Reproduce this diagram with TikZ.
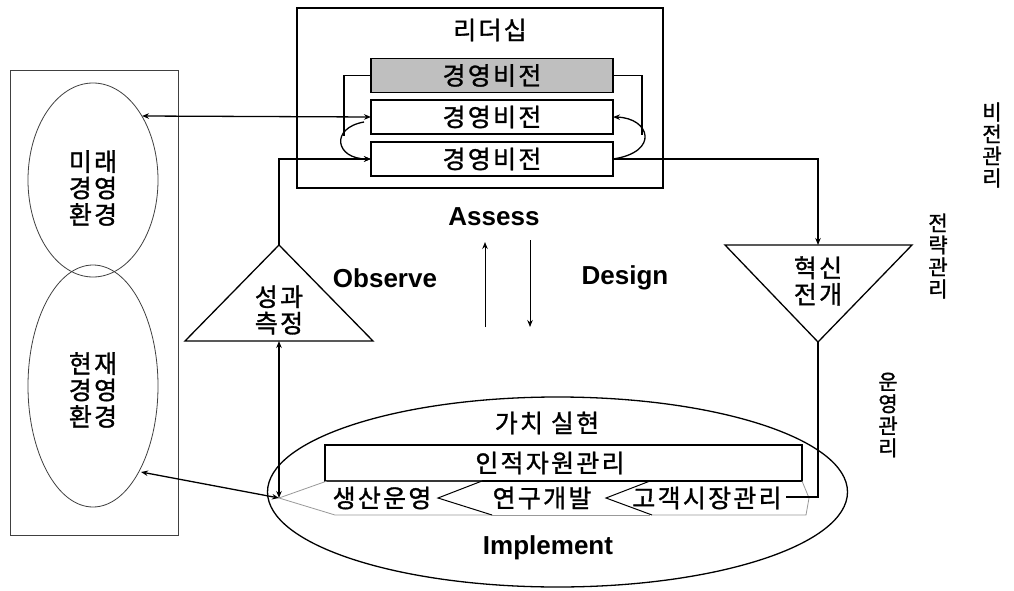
\documentclass[tikz,border=0pt]{standalone}
\usepackage{fontspec}
\setmainfont{Liberation Sans}
\newfontfamily\kr[LetterSpace=9, FakeBold=1.2]{Noto Sans CJK KR}
\usetikzlibrary{arrows.meta,shapes.geometric}
\begin{document}
\begin{tikzpicture}[x=1pt,y=-1pt,
  line width=1.3pt,
  every node/.style={inner sep=0pt, outer sep=0pt},
  krtext/.style={font=\kr\fontsize{25}{26.5}\selectfont, align=center},
  vlabel/.style={font=\kr\fontsize{21}{22}\selectfont, align=center},
  entext/.style={font=\bfseries\fontsize{26}{28}\selectfont},
  boxv/.style={draw, minimum width=242pt, minimum height=34pt, font=\kr\fontsize{25}{28}\selectfont},
  arr/.style={-{Stealth[length=7pt,width=5.5pt]}},
  dbl/.style={{Stealth[length=7pt,width=5.5pt]}-{Stealth[length=7pt,width=5.5pt]}},
  thinline/.style={draw=black!75, line width=0.8pt},
  chev/.style={draw=black!40, line width=0.8pt}
]
\useasboundingbox (0,0) rectangle (1014,591);
\fill[white] (0,0) rectangle (1014,591);

% leadership
\node[draw, minimum width=366pt, minimum height=180pt] (lead) at (480,98) {};
\node[krtext] (leadt) at (490,30) {리더십};
\node[boxv, fill=black!25] (v1) at (492,75.5) {경영비전};
\node[boxv] (v2) at (492,117) {경영비전};
\node[boxv] (v3) at (492,159) {경영비전};
\coordinate (lcorner) at (344,75.5);
\coordinate (lstart) at (364,122);
\coordinate (rcorner) at (642,75.5);
\coordinate (rend) at (642,135);
\coordinate (lend) at (344,136);
\draw (v1.west) -- (lcorner) -- (lend);
\draw[arr] (lstart) .. controls (330,128) and (335,159) .. (v3.west);
\draw (v1.east) -- (rcorner) -- (rend);
\draw[arr] (v3.east) .. controls (660,152) and (650,118) .. (v2.east);

% environment
\node[thinline, minimum width=168pt, minimum height=465pt] (env) at (94,302.5) {};
\node[thinline, ellipse, minimum width=130pt, minimum height=194pt] (fut) at (93,180) {};
\node[thinline, ellipse, minimum width=130pt, minimum height=242pt] (cur) at (93,386) {};
\node[krtext] (futt) at (93,188) {미래\\경영\\환경};
\node[krtext] (curt) at (93,390) {현재\\경영\\환경};
\coordinate (futp) at (142,116);
\coordinate (curp) at (141,472);
\draw[dbl] (futp) -- (v2.west);

% observe triangle
\coordinate (obsTop) at (279,245);
\coordinate (obsBot) at (279,341);
\draw (obsTop) -- (373,341) -- (185,341) -- cycle;
\node[krtext] (obst) at (279,310) {성과\\측정};
\draw[arr] (obsTop) |- (v3.west);

% innovation triangle
\coordinate (innTop) at (818,245);
\coordinate (innBot) at (818,342);
\draw (725,245) -- (912,245) -- (innBot) -- cycle;
\node[krtext] (innt) at (818,281) {혁신\\전개};
\draw[arr] (v3.east) -| (innTop);

% center labels
\node[entext] (assess) at (494,217) {Assess};
\node[entext] (observe) at (385,278) {Observe};
\node[entext] (design) at (625,278) {Design};
\coordinate (upB) at (485,327);
\coordinate (upT) at (485,242);
\coordinate (dnT) at (530,240);
\coordinate (dnB) at (530,327);
\draw[arr, line width=1pt] (upB) -- (upT);
\draw[arr, line width=1pt] (dnT) -- (dnB);

% implementation ellipse
\node[draw, ellipse, minimum width=580pt, minimum height=190pt] (impl) at (557.5,492) {};
\node[krtext] (value) at (547,423) {가치 실현};
\node[draw, minimum width=477pt, minimum height=36pt] (hr) at (563.5,463) {};
\node[krtext] (hrt) at (550,463) {인적자원관리};
\coordinate (chevTip) at (279,498);
\draw[chev] (482,481) -- (327,481) -- (chevTip) -- (335,515) -- (492,515);
\draw[line width=1pt] (482,481) -- (438,498) -- (492,515);
\draw[chev] (492,515) -- (650,515);
\draw[line width=1pt] (650,481) -- (606,498) -- (652,515);
\draw[chev] (652,515) -- (806,515) -- (809,498) -- (802,481);
\node[krtext] (c1) at (382,498) {생산운영};
\node[krtext] (c2) at (542,498) {연구개발};
\node[krtext] (c3) at (707,498) {고객시장관리};
\node[entext] (impt) at (548,548) {Implement};
\coordinate (chevEnd) at (786,497);
\draw (innBot) |- (chevEnd);
\draw[dbl] (obsBot) -- (chevTip);
\draw[dbl] (curp) -- (chevTip);

% right labels
\node[vlabel] (lv) at (992,145) {비\\전\\관\\리};
\node[vlabel] (ls) at (938,256) {전\\략\\관\\리};
\node[vlabel] (lo) at (888,415) {운\\영\\관\\리};
\end{tikzpicture}
\end{document}
